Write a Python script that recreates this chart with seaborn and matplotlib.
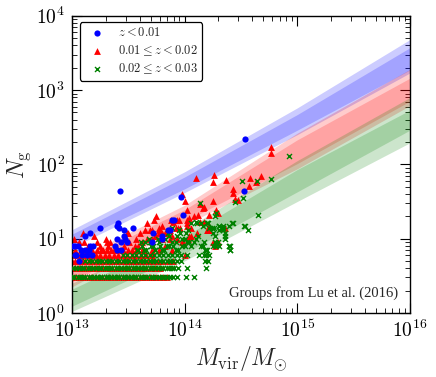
import numpy as np
import pandas as pd
import matplotlib
matplotlib.use("Agg")
import matplotlib.pyplot as plt
from matplotlib.ticker import FuncFormatter, LogLocator, NullFormatter
import seaborn as sns

# ---------------- data (log10 M_vir, N_g) ----------------
blue_logm = [13.01, 13.03, 13.05, 13.16, 13.19, 13.03, 13.06, 13.04, 13.09, 13.13,
             13.18, 13.12, 13.16, 13.25, 13.43, 13.40, 13.42, 13.46, 13.54, 13.46,
             13.40, 13.44, 13.38, 13.40, 13.44, 13.49, 13.41, 13.71, 13.80, 13.80,
             13.72, 13.85, 13.87, 13.91, 13.89, 13.97, 13.99, 14.54, 14.53, 13.47,
             13.08, 13.12, 13.15]
blue_n = [8, 8, 8, 8, 8, 6, 5, 6, 6, 6,
          6, 11, 12, 14, 44, 15, 14, 13, 14, 11,
          10, 9, 8, 7, 7, 9, 16, 9, 11, 10,
          12, 13, 13, 18, 18, 36, 21, 220, 44, 10,
          7, 7, 7]

red_logm = [14.10, 14.26, 14.25, 14.37, 14.77, 14.77, 14.58, 14.68, 14.43, 14.57,
            14.63, 14.45, 14.47, 13.98, 14.00, 14.25, 14.17, 14.22, 14.12, 14.08,
            14.04, 14.28, 14.30, 13.75, 13.73, 13.88, 13.93, 14.14, 14.02, 13.80,
            13.96, 14.20, 14.22, 13.87, 13.84, 13.71, 13.77, 14.06, 14.34, 14.03,
            14.43, 14.14, 14.17, 14.22, 14.36, 14.25, 14.02, 14.02, 13.94, 13.92,
            13.67, 13.65, 13.69, 13.60, 13.50, 13.48, 13.30, 13.11, 13.77, 13.80,
            13.83, 13.87, 13.71, 13.74, 13.57, 13.51, 13.56, 13.32, 13.26, 13.10,
            13.49, 13.31, 13.25, 13.22, 13.28, 13.34, 13.37, 13.41, 13.46, 13.50,
            13.22, 13.31, 13.59, 13.62, 13.67, 13.64, 13.77, 13.75, 13.80, 13.86,
            13.89, 13.90, 13.95, 14.02, 13.71, 13.77, 13.83, 13.89, 13.93, 13.98,
            14.04, 14.06, 14.27, 14.30, 14.00, 13.99, 14.21, 14.11, 14.16, 13.03,
            13.07, 13.02, 13.06, 13.14, 13.20]
red_n = [66, 72, 58, 62, 174, 144, 66, 70, 46, 51,
         58, 34, 33, 40, 32, 32, 27, 21, 21, 20,
         19, 24, 22, 20, 18, 18, 18, 17, 16, 15,
         14, 13, 13, 13, 12, 13, 12, 11, 14, 10,
         41, 29, 17, 15, 14, 9, 24, 18, 14, 14,
         16, 13, 13, 12, 12, 10, 10, 9, 13, 12,
         12, 10, 10, 11, 10, 9, 8, 8, 7, 12,
         12, 9, 8, 7, 7, 9, 7, 7, 8, 7,
         9, 7, 8, 9, 10, 7, 14, 11, 10, 13,
         11, 17, 18, 15, 7, 7, 8, 7, 10, 9,
         11, 14, 8, 9, 6, 9, 13, 12, 26, 4,
         4, 10, 9, 8, 11]
# dense rows of small groups (z in 0.01-0.02)
red_row3 = [13.00, 13.03, 13.06, 13.09, 13.12, 13.15, 13.18, 13.21, 13.24, 13.27,
            13.30, 13.33, 13.36, 13.39, 13.42, 13.45, 13.48, 13.51, 13.54, 13.57,
            13.60, 13.63, 13.66, 13.69, 13.72, 13.75, 13.78, 13.81, 13.84]
red_row4 = [13.00, 13.03, 13.06, 13.09, 13.12, 13.15, 13.18, 13.21, 13.24, 13.27,
            13.30, 13.33, 13.36, 13.39, 13.42, 13.45, 13.48, 13.51, 13.54, 13.57,
            13.60, 13.63, 13.66, 13.70, 13.74, 13.78]
red_row5 = [13.00, 13.03, 13.06, 13.09, 13.12, 13.15, 13.18, 13.21, 13.24, 13.27,
            13.30, 13.33, 13.36, 13.39, 13.42, 13.45, 13.48, 13.51, 13.54, 13.57,
            13.60, 13.64, 13.68, 13.72, 13.76, 13.80, 13.85, 13.90]
red_row6 = [13.01, 13.05, 13.09, 13.13, 13.17, 13.21, 13.25, 13.29, 13.33, 13.37,
            13.41, 13.45, 13.49, 13.53, 13.57, 13.61, 13.66, 13.71]
red_row7 = [13.03, 13.08, 13.13, 13.18, 13.35, 13.45, 13.53, 13.57, 13.62]

green_logm = [14.51, 14.64, 14.52, 14.65, 14.54, 14.56, 14.42, 14.33, 14.31, 14.34,
              14.15, 14.21, 14.24, 14.27, 14.30, 14.36, 14.28, 14.40, 14.40, 14.17,
              14.15, 14.18, 14.20, 14.17, 14.19, 14.21, 14.18, 14.19, 14.77, 14.93,
              14.45, 14.14, 14.28, 14.27, 14.11, 14.20, 14.22, 14.34, 14.36, 14.39,
              14.25, 14.06, 14.10, 14.16, 14.20, 14.26, 14.31, 14.34, 14.39, 14.43,
              14.53, 14.25, 14.31, 14.36, 14.39, 14.40, 14.27, 14.31, 13.89, 13.95,
              14.01, 13.98, 13.89, 13.83, 13.77, 13.74, 13.80, 13.92, 14.04, 14.10,
              14.16, 14.19, 14.13, 14.22, 13.65, 13.68, 13.64, 13.59, 13.72, 13.86,
              14.00, 13.96, 13.70,
              13.58, 13.62, 13.66, 13.70, 13.74, 13.78, 13.82, 13.86, 13.90, 13.94,
              13.98, 14.02, 14.06, 13.61, 13.69, 13.76, 13.84, 13.92, 14.00, 14.08,
              13.85, 13.93, 14.03, 14.12]
green_n = [59, 59, 35, 21, 15, 13, 16, 14, 15, 13,
           16, 16, 14, 11, 9, 10, 8, 8, 7, 9,
           8, 7, 7, 6, 6, 5, 5, 4, 63, 131,
           31, 30, 22, 20, 16, 16, 14, 15, 12, 8,
           8, 16, 17, 15, 16, 14, 15, 14, 15, 16,
           15, 12, 13, 11, 8, 7, 9, 8, 14, 13,
           12, 10, 9, 10, 9, 7, 7, 7, 9, 10,
           8, 7, 6, 6, 9, 10, 7, 7, 8, 11,
           8, 12, 9,
           7, 8, 7, 8, 7, 8, 7, 8, 8, 7,
           8, 9, 8, 9, 9, 10, 8, 9, 10, 9,
           12, 11, 13, 11]
green_row3 = [13.00, 13.02, 13.05, 13.07, 13.10, 13.12, 13.15, 13.17, 13.20, 13.22,
              13.25, 13.27, 13.30, 13.32, 13.35, 13.37, 13.40, 13.42, 13.45, 13.47,
              13.50, 13.52, 13.55, 13.57, 13.60, 13.62, 13.65, 13.67, 13.70, 13.72,
              13.75, 13.77, 13.80, 13.82, 13.84, 13.87, 13.90, 13.93, 14.01, 14.08]
green_row4 = [13.01, 13.04, 13.06, 13.09, 13.11, 13.14, 13.16, 13.19, 13.21, 13.24,
              13.26, 13.29, 13.31, 13.34, 13.36, 13.39, 13.41, 13.44, 13.46, 13.49,
              13.51, 13.54, 13.56, 13.59, 13.61, 13.64, 13.66, 13.69, 13.71, 13.74,
              13.76, 13.79, 13.81, 13.84, 13.86, 13.89, 13.91, 13.94, 14.02]
green_row5 = [13.12, 13.15, 13.18, 13.21, 13.24, 13.27, 13.30, 13.33, 13.36, 13.39,
              13.42, 13.45, 13.48, 13.51, 13.54, 13.57, 13.60, 13.63, 13.66, 13.69,
              13.72, 13.75, 13.78, 13.81, 13.84, 13.87, 13.90, 13.93, 13.97]
green_row6 = [13.45, 13.49, 13.53, 13.57, 13.61, 13.65, 13.69, 13.73, 13.77, 13.81,
              13.85, 13.89, 13.93, 13.97, 14.02]

# model bands: log10 N at log10 M = 13, 14, 15, 16
band_logm = [13, 14, 15, 16]
blue_outer_hi = [1.12, 1.90, 2.76, 3.68]
blue_inner_hi = [1.06, 1.83, 2.67, 3.57]
blue_inner_lo = [0.94, 1.67, 2.46, 3.27]
blue_outer_lo = [0.88, 1.62, 2.40, 3.23]
red_outer_hi = [0.70, 1.45, 2.42, 3.28]
red_inner_hi = [0.64, 1.39, 2.33, 3.16]
red_inner_lo = [0.42, 1.23, 2.01, 2.85]
red_outer_lo = [0.35, 1.18, 1.94, 2.79]
green_outer_hi = [0.40, 1.12, 2.05, 2.90]
green_inner_hi = [0.32, 1.03, 1.93, 2.73]
green_inner_lo = [0.09, 0.80, 1.63, 2.46]
green_outer_lo = [0.02, 0.70, 1.50, 2.29]

labels = [r'$z<0.01$', r'$0.01\leq z<0.02$', r'$0.02\leq z<0.03$']

# ---------------- style ----------------
sns.set_style("ticks")
plt.rcParams['font.family'] = ['DejaVu Serif']
plt.rcParams['mathtext.fontset'] = 'cm'
plt.rcParams['xtick.direction'] = 'in'
plt.rcParams['ytick.direction'] = 'in'

fig = plt.figure(figsize=(4.36, 3.77), dpi=100)
ax = fig.add_axes([0.165, 0.170, 0.775, 0.788])

BLUE, RED, GREEN = '#0000ff', '#ff0000', '#008000'

bm = 10 ** np.array(band_logm, dtype=float)
for col, ohi, ihi, ilo, olo in [
        (BLUE, blue_outer_hi, blue_inner_hi, blue_inner_lo, blue_outer_lo),
        (RED, red_outer_hi, red_inner_hi, red_inner_lo, red_outer_lo),
        (GREEN, green_outer_hi, green_inner_hi, green_inner_lo, green_outer_lo)]:
    ax.fill_between(bm, 10 ** np.array(olo), 10 ** np.array(ohi), color=col,
                    alpha=0.2, lw=0, zorder=1)
    ax.fill_between(bm, 10 ** np.array(ilo), 10 ** np.array(ihi), color=col,
                    alpha=0.2, lw=0, zorder=1)

red_all_m = red_logm + red_row3 + red_row4 + red_row5 + red_row6 + red_row7
red_all_n = (red_n + [3] * len(red_row3) + [4] * len(red_row4) + [5] * len(red_row5)
             + [6] * len(red_row6) + [7] * len(red_row7))
green_all_m = green_row3 + green_row4 + green_row5 + green_row6 + green_logm
green_all_n = ([3] * len(green_row3) + [4] * len(green_row4) + [5] * len(green_row5)
               + [6] * len(green_row6) + green_n)

df_b = pd.DataFrame({'M': 10 ** np.array(blue_logm), 'N': blue_n})
df_r = pd.DataFrame({'M': 10 ** np.array(red_all_m), 'N': red_all_n})
df_g = pd.DataFrame({'M': 10 ** np.array(green_all_m), 'N': green_all_n})

sns.scatterplot(data=df_b, x='M', y='N', ax=ax, color=BLUE, marker='o', s=20,
                linewidth=0, zorder=4, label=labels[0])
sns.scatterplot(data=df_r, x='M', y='N', ax=ax, color=RED, marker='^', s=24,
                linewidth=0, zorder=2, label=labels[1])
sns.scatterplot(data=df_g, x='M', y='N', ax=ax, color=GREEN, marker='x', s=13,
                linewidth=1.0, zorder=3, label=labels[2])

ax.set_xscale('log')
ax.set_yscale('log')
ax.set_xlim(1e13, 1e16)
ax.set_ylim(1, 1e4)

fmt = FuncFormatter(lambda v, p: r'$10^{%d}$' % int(round(np.log10(v))))
ax.xaxis.set_major_locator(LogLocator(base=10, numticks=10))
ax.yaxis.set_major_locator(LogLocator(base=10, numticks=10))
ax.xaxis.set_minor_locator(LogLocator(base=10, subs=np.arange(2, 10), numticks=20))
ax.yaxis.set_minor_locator(LogLocator(base=10, subs=np.arange(2, 10), numticks=20))
ax.xaxis.set_major_formatter(fmt)
ax.yaxis.set_major_formatter(fmt)
ax.xaxis.set_minor_formatter(NullFormatter())
ax.yaxis.set_minor_formatter(NullFormatter())
ax.tick_params(which='both', direction='in', top=True, right=True, colors='black')
ax.tick_params(which='major', length=7, width=0.8, labelsize=14, pad=5)
ax.tick_params(which='minor', length=3.5, width=0.6)
for sp in ax.spines.values():
    sp.set_linewidth(1.0)
    sp.set_color('black')

ax.set_xlabel(r'$M_{\rm vir}/M_{\odot}$', fontsize=17, labelpad=2)
ax.set_ylabel(r'$N_{\rm g}$', fontsize=17, labelpad=2)

leg = ax.legend(loc='upper left', bbox_to_anchor=(0.005, 1.0), fontsize=9,
                frameon=True, fancybox=True, edgecolor='black', framealpha=1,
                handletextpad=0.7, borderpad=0.35, labelspacing=0.3,
                scatterpoints=1, markerscale=1.0)
leg.get_frame().set_linewidth(0.9)

ax.text(0.964, 0.045, 'Groups from Lu et al. (2016)', transform=ax.transAxes,
        ha='right', va='bottom', fontsize=10.5, family='Liberation Serif', zorder=6)

fig.savefig('out.png', dpi=100)
